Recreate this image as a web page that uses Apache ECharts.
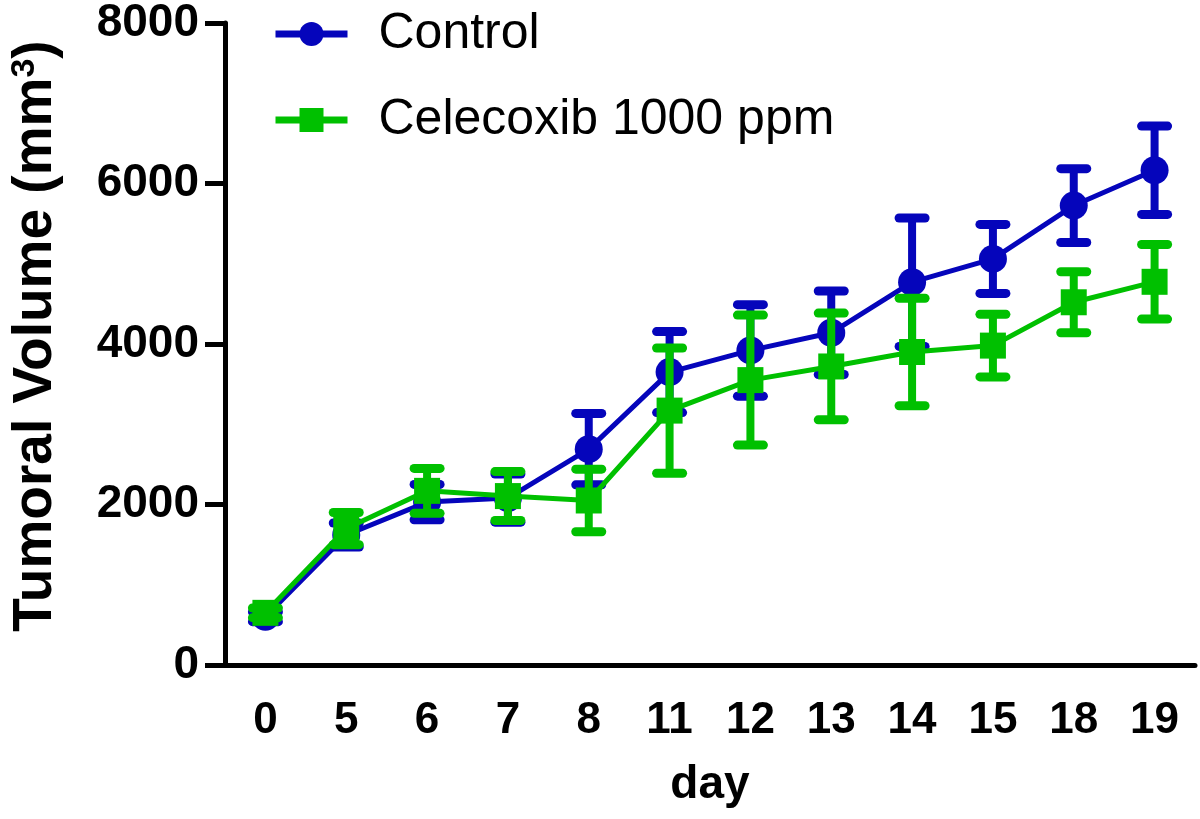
<!DOCTYPE html>
<html>
<head>
<meta charset="utf-8">
<script src="https://cdn.jsdelivr.net/npm/echarts@6/dist/echarts.min.js"></script>
<style>html,body{margin:0;padding:0;background:#fff;}#c{width:1200px;height:819px;}</style>
</head>
<body>
<div id="c"></div>
<script>
const days = ['0','5','6','7','8','11','12','13','14','15','18','19'];
const controlMean = [600,1620,2030,2080,2690,3650,3920,4140,4770,5060,5725,6165];
const controlErr  = [60,150,220,300,445,505,570,520,800,430,460,550];
const celecoxibMean = [650,1700,2170,2105,2050,3170,3550,3720,3900,3980,4520,4775];
const celecoxibErr  = [60,200,280,305,390,780,810,665,670,390,380,465];
const yTicks = [0,2000,4000,6000,8000];

const BLUE = '#0505bb';
const GREEN = '#00c000';
const FONT = "'Liberation Sans', Arial, sans-serif";

function errData(means, errs){ return means.map((m,i)=>[i,m,errs[i]]); }
function errRender(color){
  return function(params, api){
    const x = api.value(0), m = api.value(1), e = api.value(2);
    const hi = api.coord([x, m+e]);
    const lo = api.coord([x, m-e]);
    const hw = 13;
    return {type:'group', children:[
      {type:'line', shape:{x1:hi[0],y1:hi[1],x2:lo[0],y2:lo[1]}, style:{stroke:color,lineWidth:8}},
      {type:'line', shape:{x1:hi[0]-hw,y1:hi[1],x2:hi[0]+hw,y2:hi[1]}, style:{stroke:color,lineWidth:9,lineCap:'round'}},
      {type:'line', shape:{x1:lo[0]-hw,y1:lo[1],x2:lo[0]+hw,y2:lo[1]}, style:{stroke:color,lineWidth:9,lineCap:'round'}}
    ]};
  };
}

const chart = echarts.init(document.getElementById('c'), null, {renderer:'canvas'});
chart.setOption({
  animation:false,
  backgroundColor:'#fff',
  grid:{left:219, right:5, top:19, bottom:154, containLabel:false},
  legend:{
    data:['Control','Celecoxib 1000 ppm'],
    orient:'vertical', left:267, top:4, itemWidth:72, itemHeight:30, itemGap:36,
    lineStyle:{width:7},
    textStyle:{fontFamily:FONT, fontSize:50, color:'#000', padding:[0,0,0,26]}
  },
  xAxis:{
    type:'category', data:days, boundaryGap:true,
    name:'day', nameLocation:'middle', nameGap:97,
    nameTextStyle:{fontFamily:FONT, fontWeight:'bold', fontSize:46, color:'#000'},
    axisLine:{lineStyle:{color:'#000', width:5}},
    axisTick:{alignWithLabel:true, length:20, lineStyle:{color:'#000', width:5}},
    axisLabel:{margin:34, fontFamily:FONT, fontWeight:'bold', fontSize:44, color:'#000'},
    splitLine:{show:false}
  },
  yAxis:{
    type:'value', min:0, max:8000, interval:2000,
    name:'Tumoral Volume (mm{sup|3})', nameLocation:'middle', nameGap:162, nameRotate:90,
    nameTextStyle:{fontFamily:FONT, fontWeight:'bold', fontSize:55, color:'#000', padding:[0,0,0,16],
      rich:{sup:{fontFamily:FONT, fontWeight:'bold', fontSize:34, color:'#000', verticalAlign:'top', lineHeight:40, padding:[0,0,24,0]}}},
    axisLine:{show:true, lineStyle:{color:'#000', width:5}},
    axisTick:{show:true, length:20, lineStyle:{color:'#000', width:5}},
    axisLabel:{margin:26, fontFamily:FONT, fontWeight:'bold', fontSize:46, color:'#000',
      formatter:function(v){ return yTicks.indexOf(v)>=0 ? String(v) : ''; }},
    splitLine:{show:false}
  },
  series:[
    {name:'ControlErr', type:'custom', z:2, renderItem:errRender(BLUE), encode:{x:0,y:1}, data:errData(controlMean, controlErr), silent:true},
    {name:'Control', type:'line', z:3, data:controlMean, symbol:'circle', symbolSize:28,
      lineStyle:{color:BLUE, width:5}, itemStyle:{color:BLUE}},
    {name:'CelecoxibErr', type:'custom', z:4, renderItem:errRender(GREEN), encode:{x:0,y:1}, data:errData(celecoxibMean, celecoxibErr), silent:true},
    {name:'Celecoxib 1000 ppm', type:'line', z:5, data:celecoxibMean, symbol:'rect', symbolSize:26,
      lineStyle:{color:GREEN, width:5}, itemStyle:{color:GREEN}}
  ]
});
</script>
</body>
</html>
